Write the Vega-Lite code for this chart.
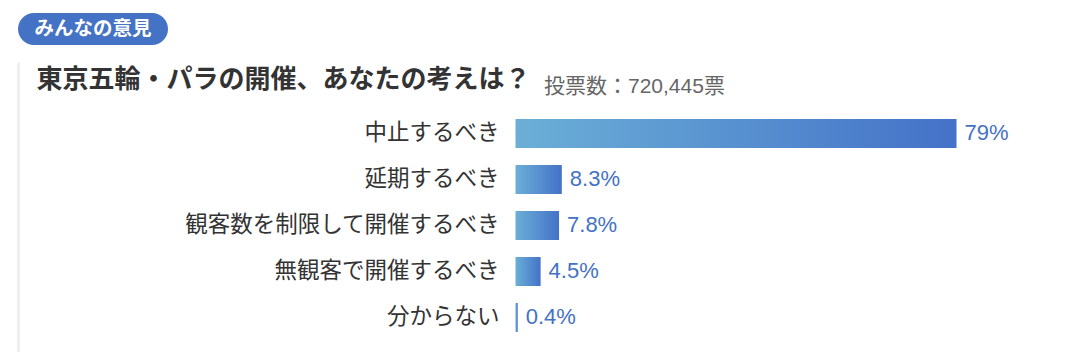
{
  "$schema": "https://vega.github.io/schema/vega-lite/v6.json",
  "padding": {"left": 18, "top": 13, "right": 0, "bottom": 0},
  "background": "white",
  "spacing": 17,
  "config": {"view": {"stroke": null}, "font": "Noto Sans CJK JP"},
  "vconcat": [
    {
      "width": 150,
      "height": 32,
      "view": {"fill": "#4472C4", "cornerRadius": 16, "stroke": null},
      "data": {"values": [{"t": "みんなの意見"}]},
      "mark": {"type": "text", "color": "white", "fontSize": 19.5, "fontWeight": "bold", "font": "Noto Sans CJK JP", "align": "center", "baseline": "middle", "dy": 0},
      "encoding": {"text": {"field": "t"}}
    },
    {
      "width": 1060,
      "height": 290,
      "title": {
        "text": "東京五輪・パラの開催、あなたの考えは？",
        "anchor": "start",
        "frame": "group",
        "orient": "top",
        "offset": -52,
        "baseline": "alphabetic",
        "dx": 18.5,
        "fontSize": 26,
        "fontWeight": "bold",
        "font": "Noto Sans CJK JP",
        "color": "#333333"
      },
      "data": {"values": [
        {"cat": "中止するべき", "value": 79, "label": "79%"},
        {"cat": "延期するべき", "value": 8.3, "label": "8.3%"},
        {"cat": "観客数を制限して開催するべき", "value": 7.8, "label": "7.8%"},
        {"cat": "無観客で開催するべき", "value": 4.5, "label": "4.5%"},
        {"cat": "分からない", "value": 0.4, "label": "0.4%"}
      ]},
      "encoding": {
        "y": {
          "field": "cat", "type": "nominal", "sort": null,
          "scale": {"paddingInner": 0, "paddingOuter": 0.652, "align": 0.808},
          "axis": {"labels": false, "ticks": false, "title": null, "grid": false, "domainColor": "#eeeeee", "domainWidth": 3}
        }
      },
      "layer": [
        {
          "mark": {"type": "bar", "height": 29, "color": {"gradient": "linear", "x1": 0, "y1": 0, "x2": 1, "y2": 0, "stops": [{"offset": 0, "color": "#6BAFD7"}, {"offset": 1, "color": "#4472C8"}]}},
          "encoding": {
            "x": {
              "field": "value", "type": "quantitative",
              "scale": {"domain": [0, 79], "range": [497.5, 938.5], "nice": false},
              "axis": {"orient": "top", "labels": false, "ticks": false, "domain": false, "grid": false,
                "title": "投票数：720,445票", "titleX": 525.5, "titleY": 30, "titleAlign": "left", "titleAnchor": "start",
                "titleBaseline": "alphabetic", "titleFontSize": 21, "titleFontWeight": "normal", "titleColor": "#666666",
                "titleFont": "Liberation Sans, Noto Sans CJK JP"}
            }
          }
        },
        {
          "mark": {"type": "text", "align": "right", "baseline": "middle", "dx": -16, "fontSize": 22.5, "color": "#333333", "font": "Noto Sans CJK JP"},
          "encoding": {"x": {"datum": 0, "type": "quantitative"}, "text": {"field": "cat"}}
        },
        {
          "mark": {"type": "text", "align": "left", "baseline": "middle", "dx": 8, "fontSize": 22, "color": "#4472C4", "font": "Liberation Sans"},
          "encoding": {"x": {"field": "value", "type": "quantitative"}, "text": {"field": "label"}}
        }
      ]
    }
  ]
}
